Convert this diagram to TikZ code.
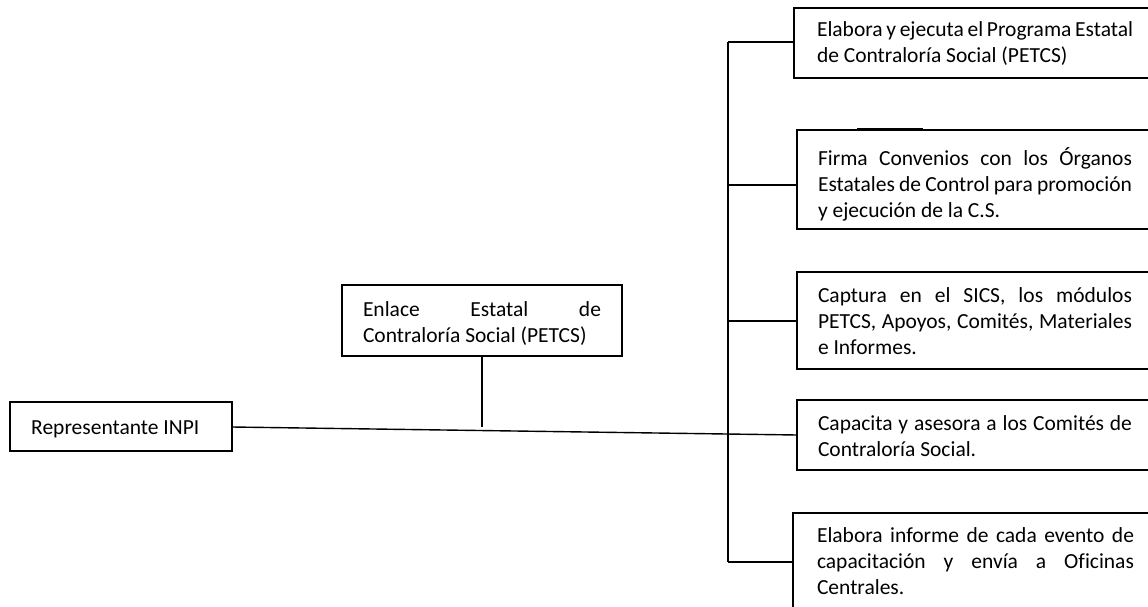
\documentclass[tikz,border=0pt]{standalone}
\usepackage{fontspec}
\setmainfont{Carlito}[Ligatures=NoCommon]
\hyphenpenalty=10000
\exhyphenpenalty=10000
\tolerance=10000
\newcommand{\topstrut}{\vrule height 21pt depth 0pt width 0pt\relax}
\begin{document}
\begin{tikzpicture}[x=1pt,y=-1pt,
  box/.style={draw=black,line width=1.4pt,anchor=north west,inner sep=0pt,outer sep=0pt},
  txt/.style={anchor=north west,inner sep=0pt,outer sep=0pt,align=justify,
    font=\fontsize{21.5}{26}\selectfont},
  link/.style={draw=black,line width=1.4pt}]
\clip (0,0) rectangle (1148,607);
\fill[white] (0,0) rectangle (1148,607);
% boxes
\node[box,minimum width=222pt,minimum height=49pt] (inpi) at (10,402) {};
\node[box,minimum width=280pt,minimum height=71pt] (enl) at (342,285) {};
\node[box,minimum width=380pt,minimum height=70pt] (b1) at (794,8) {};
\node[box,minimum width=380pt,minimum height=99pt] (b2) at (797,130) {};
\node[box,minimum width=380pt,minimum height=97pt] (b3) at (797,272) {};
\node[box,minimum width=380pt,minimum height=70pt] (b4) at (797,400) {};
\node[box,minimum width=380pt,minimum height=120pt] (b5) at (793,513) {};
% texts
\node[anchor=base west,inner sep=0pt,font=\fontsize{21.5}{26}\selectfont] (tinpi) at (31,434) {Representante INPI};
\node[txt,text width=238pt] (tenl) at (363,316-21) {\topstrut Enlace Estatal de Contraloría Social (PETCS)};
\node[txt,text width=316pt] (t1) at (817,37-21) {\topstrut Elabora y ejecuta el Programa Estatal de Contraloría Social (PETCS)};
\node[txt,text width=314pt] (t2) at (818,165-21) {\topstrut Firma Convenios con los Órganos Estatales de Control para promoción y ejecución de la C.S.};
\node[txt,text width=314pt] (t3) at (818,302-21) {\topstrut Captura en el SICS, los módulos PETCS, Apoyos, Comités, Materiales e Informes.};
\node[txt,text width=314pt] (t4) at (818,430-21) {\topstrut Capacita y asesora a los Comités de Contraloría Social.};
\node[txt,text width=317pt] (t5) at (817,542-21) {\topstrut Elabora informe de cada evento de\linebreak capacitación y envía a Oficinas Centrales.};
% connector coordinates
\coordinate (sTop) at (728,42);
\coordinate (s2) at (728,185);
\coordinate (s3) at (728,321);
\coordinate (sBot) at (728,562);
\coordinate (eFoot) at (482,427);
\coordinate (stA) at (857,128.5);
\coordinate (stB) at (923,128.5);
% connectors
\draw[link] (inpi.east |- 0,427) -- (b4.west |- 0,435);
\draw[link] (enl.south -| eFoot) -- (eFoot);
\draw[link] (sTop) -- (sBot);
\draw[link] (sTop) -- (b1.west |- sTop);
\draw[link] (s2) -- (b2.west |- s2);
\draw[link] (s3) -- (b3.west |- s3);
\draw[link] (sBot) -- (b5.west |- sBot);
\draw[link] (stA) -- (stB);
\end{tikzpicture}
\end{document}
